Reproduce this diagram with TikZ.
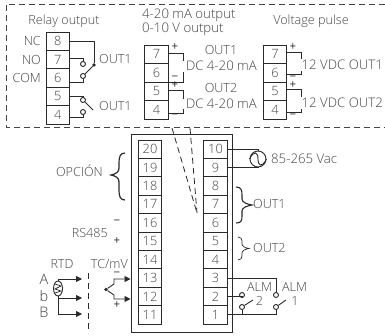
\documentclass[tikz,border=0pt]{standalone}
\usepackage{fontspec}
\setmainfont{Open Sans}[UprightFont=* Light]
\newfontfamily\signfont{Open Sans}
\usetikzlibrary{arrows.meta,shapes.geometric}
\definecolor{txt}{HTML}{444444}
\definecolor{wire}{HTML}{2A2A2A}
\tikzset{
  lbl/.style={inner sep=0pt,text=txt,font=\fontsize{12.6}{14}\selectfont},
  widelbl/.style={lbl,font=\fontsize{13.2}{15}\selectfont},
  biglbl/.style={lbl,font=\fontsize{14.5}{16}\selectfont},
  cell/.style={draw=wire,line width=.9pt,minimum width=23.5pt,inner sep=0pt,text=txt,font=\fontsize{12.8}{14}\selectfont},
  relaycell/.style={cell,minimum height=18.4pt},
  optcell/.style={cell,minimum height=18.5pt},
  maincell/.style={cell,minimum height=18.4pt},
  wr/.style={draw=wire,line width=.9pt},
  contact/.style={circle,draw=wire,line width=.9pt,minimum size=5pt,inner sep=0pt},
  dot/.style={circle,fill=wire,minimum size=3.6pt,inner sep=0pt},
  gdash/.style={draw=txt,line width=.9pt,dash pattern=on 6pt off 4pt},
  kdash/.style={draw=wire,line width=.8pt,dash pattern=on 6pt off 4pt},
  arr/.style={wr,-{Triangle[length=6pt,width=6pt]}},
  sign/.style={inner sep=0pt,text=wire,font=\signfont\fontsize{11.5}{11.5}\selectfont},
}
\begin{document}
\begin{tikzpicture}[x=1pt,y=-1pt]
\useasboundingbox (0,0) rectangle (385,335);
\fill[white] (0,0) rectangle (385,335);
% detail box
\draw[gdash] (385,4) -- (6,4) -- (6,127) -- (385,127);
% relay column
\foreach \n/\y in {8/41.2,7/59.6,6/78,5/96.4,4/114.8}
  \node[relaycell] (r\n) at (57.7,\y) {\n};
% 4-20 mA column
\foreach \n/\y in {7/54.25,6/72.75,5/91.25,4/109.75}
  \node[optcell] (m\n) at (156.5,\y) {\n};
% voltage pulse column
\foreach \n/\y in {7/54.25,6/72.75,5/91.25,4/109.75}
  \node[optcell] (v\n) at (275,\y) {\n};
% main body
\node[draw=wire,line width=1pt,minimum width=101pt,minimum height=198pt,inner sep=0pt] (body) at (181.5,233) {};
\foreach \n [count=\i from 0] in {20,19,...,11}
  \node[maincell] (t\n) at (150,149.2+18.4*\i) {\n};
\foreach \n [count=\i from 0] in {10,9,...,1}
  \node[maincell] (t\n) at (215.5,149.2+18.4*\i) {\n};
% titles
\node[lbl] (trelay) at (64,21) {Relay output};
\node[widelbl,anchor=west] (tma) at (142,15) {4-20 mA output};
\node[widelbl,anchor=west] (tv) at (142,29) {0-10 V output};
\node[lbl] (tpulse) at (311,21) {Voltage pulse};
\node[lbl,anchor=east] (lnc) at (41,41) {NC};
\node[lbl,anchor=east] (lno) at (41,60) {NO};
\node[lbl,anchor=east] (lcom) at (41,78) {COM};
% relay wiring
\node[dot] (pole) at (94,65) {};
\node[contact] (c7) at (83,64) {};
\node[contact] (c6) at (83,76) {};
\node[contact] (c5) at (83,100) {};
\node[contact] (c4) at (83,112) {};
\draw[wr] (r8.east) -| (pole);
\draw[wr] ([yshift=1.5pt]r7.east) -| (c7);
\draw[wr] ([yshift=-4pt]r6.east) -| (c6);
\draw[wr] (r5.east) -| (c5);
\draw[wr] ([yshift=-2.5pt]r4.east) -| (c4);
\draw[wr] (c6) -- (pole);
\coordinate (arm2) at (93,110);
\draw[wr] (c5) -- (arm2);
\node[lbl,anchor=west] (lo1) at (99,59) {OUT1};
\node[lbl,anchor=west] (lo1b) at (99,106) {OUT1};
% 4-20 mA wiring
\node[lbl] (o1) at (221,50) {OUT1};
\node[widelbl,anchor=east] (d1) at (257,66) {DC 4-20 mA};
\node[lbl] (o2) at (221,88) {OUT2};
\node[widelbl,anchor=east] (d2) at (257,104) {DC 4-20 mA};
\coordinate (ma) at (183,53); \coordinate (mb) at (183,61);
\coordinate (mc) at (183,72); \coordinate (md) at (183,82);
\coordinate (me) at (183,90); \coordinate (mf) at (183,99);
\coordinate (mg) at (183,109); \coordinate (mh) at (183,113);
\draw[wr] (m7.east |- ma) -- (ma) -- (mb);
\draw[wr] (mc) -- (md) -- (m6.east |- md);
\draw[wr] (m5.east |- me) -- (me) -- (mf);
\draw[wr] (mg) -- (mh) -- (m4.east |- mh);
\foreach \nm/\s/\x/\y in {pa/+/175/47,pb/−/175/78,pc/+/175/85,pd/−/175/116,qa/+/293/47,qb/−/293/78,qc/+/293/85,qd/−/293/116}
  \node[sign] (\nm) at (\x,\y) {\s};
% voltage pulse wiring
\node[widelbl,anchor=west] (p1) at (301.5,65) {12 VDC OUT1};
\node[widelbl,anchor=west] (p2) at (301.5,103) {12 VDC OUT2};
\coordinate (va) at (301,52); \coordinate (vb) at (301,59);
\coordinate (vc) at (301,71); \coordinate (vd) at (301,74);
\coordinate (ve) at (301,89); \coordinate (vf) at (301,97);
\coordinate (vg) at (301,109); \coordinate (vh) at (301,112);
\draw[wr] (v7.east |- va) -- (va) -- (vb);
\draw[wr] (vc) -- (vd) -- (v6.east |- vd);
\draw[wr] (v5.east |- ve) -- (ve) -- (vf);
\draw[wr] (vg) -- (vh) -- (v4.east |- vh);
% zoom lines
\coordinate (zl) at (172,128); \coordinate (zr) at (190,128); \coordinate (zb) at (197,213);
\draw[kdash] (zl) -- (zb);
\draw[kdash] (zr) -- (zb);
% supply
\node[circle,draw=wire,line width=.9pt,minimum size=16pt,inner sep=0pt] (ac) at (258,159) {};
\draw[wr] (t10.east) -- (ac.north |- t10.east) -- (ac.north);
\draw[wr] (t9.east) -- (ac.south |- t9.east) -- (ac.south);
\draw[wr] (ac.west) .. controls (254,150) and (258,152) .. (258,159) .. controls (258,166) and (262,168) .. (ac.east);
\node[widelbl,anchor=west] (lac) at (271,159) {85-265 Vac};
% braces
\node[lbl,anchor=east] (lop) at (103,171) {OPCIÓN};
\draw[wire,line width=1.2pt] (125,153) .. controls (120,153) and (119,157) .. (119,163) -- (119,168) .. controls (119,172) and (116,174) .. (111,175) .. controls (116,176) and (119,178) .. (119,182) -- (119,190) .. controls (119,196) and (120,200) .. (125,200);
\draw[wire,line width=1.1pt] (236,187) .. controls (241,187) and (242,190) .. (242,195) -- (242,199) .. controls (242,202) and (246,204) .. (252,205) .. controls (246,206) and (242,208) .. (242,211) -- (242,216) .. controls (242,221) and (241,223) .. (236,223);
\node[lbl,anchor=west] (lb1) at (253,204) {OUT1};
\draw[wire,line width=.7pt] (238,237) .. controls (241,237) and (242,239) .. (242,241) -- (242,244) .. controls (242,246) and (245,248) .. (249,248.5) .. controls (245,249) and (242,251) .. (242,253) -- (242,256) .. controls (242,258) and (241,260) .. (238,260);
\node[lbl,anchor=west] (lb2) at (253,248) {OUT2};
% alarms
\node[contact] (a2t) at (242,295) {};
\node[contact] (a2b) at (242,307) {};
\node[contact] (a1t) at (276,295) {};
\node[contact] (a1b) at (276,307) {};
\draw[wr] (t3.east) -| (a1t);
\draw[wr] ([yshift=-.5pt]t2.east) -| (a2t);
\draw[wr] (t1.east) -| (a1b);
\draw[wr] (a2b |- t1.east) -- (a2b);
\coordinate (s2) at (253,300); \coordinate (s1) at (286,300);
\draw[wr] (a2b) -- (s2);
\draw[wr] (a1b) -- (s1);
\node[lbl] (al2) at (259.5,287) {ALM};
\node[lbl] (n2) at (259.5,301) {2};
\node[lbl] (al1) at (294.5,287) {ALM};
\node[lbl] (n1) at (295,301) {1};
% RS485
\node[lbl,anchor=east] (lrs) at (108,233) {RS485};
\node[sign] (rm) at (117,222) {−};
\node[sign] (rp) at (117,241) {+};
% RTD
\node[lbl] (lrtd) at (62,264) {RTD};
\node[lbl,anchor=east] (ltc) at (128,264) {TC/mV};
\node[biglbl] (la) at (44,279) {A};
\node[biglbl] (lb) at (44,296) {b};
\node[biglbl] (lbb) at (44,312) {B};
\node[ellipse,draw=wire,line width=.9pt,minimum width=9pt,minimum height=15pt,inner sep=0pt] (rtd) at (58,288.5) {};
\draw[wire,line width=.7pt] (55,284) -- (61,286) -- (55,289) -- (61,291) -- (55,293);
\coordinate (ra) at (58,279); \coordinate (rb) at (58,298); \coordinate (rc) at (58,314);
\coordinate (ta) at (82,279); \coordinate (tb) at (82,298); \coordinate (tc) at (82,314);
\draw[arr] (rtd.north) -- (ra) -- (ta);
\draw[arr] (rtd.south) -- (rb) -- (tb);
\draw[arr] (rb) -- (rc) -- (tc);
\coordinate (ds) at (88,273); \coordinate (de) at (88,333);
\draw[kdash] (ds) -- (de);
% TC
\node[dot] (tcj) at (106,289.5) {};
\coordinate (tu) at (114,284); \coordinate (tv1) at (114,279);
\coordinate (tw) at (114,295); \coordinate (tx) at (114,299);
\draw[arr] (tcj) -- (tu) -- (tv1) -- (tv1 -| body.west);
\draw[arr] (tcj) -- (tw) -- (tx) -- (tx -| body.west);
\node[sign] (tm) at (117,274) {−};
\node[sign] (tp) at (117,305) {+};
\end{tikzpicture}
\end{document}
